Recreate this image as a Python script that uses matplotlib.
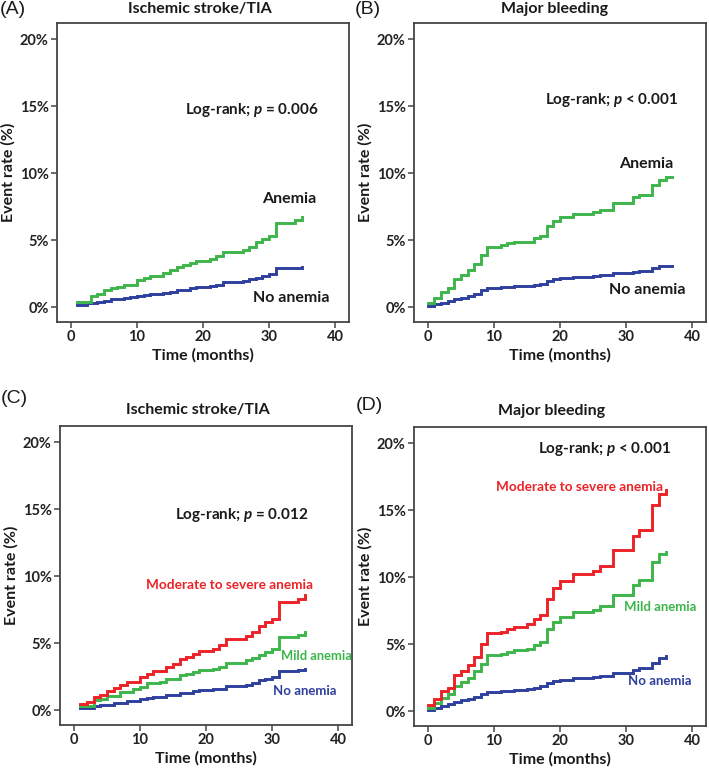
import matplotlib
matplotlib.use("Agg")
import matplotlib.pyplot as plt
import numpy as np

plt.rcParams['font.family'] = ['Lato', 'DejaVu Sans']
plt.rcParams['mathtext.fontset'] = 'custom'
plt.rcParams['mathtext.it'] = 'Lato:italic:bold'
plt.rcParams['mathtext.rm'] = 'Lato:bold'

# ---------------- data (months, event rate %) ----------------
# Panel A: Ischemic stroke/TIA, anemia vs no anemia
a_anemia_t = [1, 3, 4, 5, 6, 7, 8, 10, 11, 12, 14, 15, 16, 17, 18, 19, 21, 22, 23, 26, 27, 28, 29, 30, 31, 34, 35]
a_anemia_v = [0.4, 0.85, 1.0, 1.25, 1.4, 1.5, 1.65, 2.0, 2.2, 2.35, 2.55, 2.75, 3.0, 3.15, 3.3, 3.45, 3.6, 3.8, 4.15, 4.3, 4.5, 4.9, 5.1, 5.3, 6.3, 6.5, 6.7]
a_none_t = [1, 2.5, 4, 5, 6, 8, 9, 10, 11, 12, 14, 15, 16, 18, 19, 21, 22, 23, 25, 26, 27, 28, 29, 30, 31, 33, 35]
a_none_v = [0.2, 0.3, 0.42, 0.5, 0.6, 0.67, 0.75, 0.85, 0.92, 1.0, 1.1, 1.17, 1.3, 1.4, 1.5, 1.6, 1.67, 1.85, 1.9, 1.97, 2.1, 2.2, 2.35, 2.45, 2.9, 2.95, 3.0]

# Panel B: Major bleeding, anemia vs no anemia
b_anemia_t = [0, 1, 2, 3, 4, 5, 6, 7, 8, 9, 11, 12, 13, 15, 16, 17, 18, 19, 20, 22, 25, 26, 28, 31, 32, 34, 35, 36, 37]
b_anemia_v = [0.35, 0.67, 1.15, 1.4, 2.1, 2.4, 2.75, 3.2, 3.9, 4.5, 4.65, 4.77, 4.85, 4.9, 5.15, 5.35, 6.05, 6.45, 6.7, 6.95, 7.1, 7.25, 7.8, 8.2, 8.35, 9.1, 9.5, 9.7, 9.7]
b_none_t = [0, 1, 2, 3, 4, 5, 6, 7, 8, 9, 11, 13, 15, 16, 17, 18, 19, 20, 22, 25, 26, 28, 31, 32, 34, 35, 36, 37]
b_none_v = [0.1, 0.22, 0.35, 0.45, 0.62, 0.72, 0.87, 1.0, 1.25, 1.42, 1.5, 1.55, 1.6, 1.67, 1.75, 1.97, 2.1, 2.2, 2.27, 2.3, 2.4, 2.55, 2.6, 2.7, 2.9, 3.05, 3.1, 3.1]

# Panel C: Ischemic stroke/TIA by anemia severity
c_mod_t = [1, 2, 3, 4, 5, 6, 7, 8, 10, 11, 12, 14, 15, 16, 17, 18, 19, 21, 22, 23, 26, 27, 28, 29, 30, 31, 34, 35]
c_mod_v = [0.5, 0.62, 1.0, 1.17, 1.42, 1.67, 1.86, 2.1, 2.46, 2.73, 2.9, 3.23, 3.48, 3.8, 3.97, 4.22, 4.4, 4.6, 4.85, 5.3, 5.54, 5.84, 6.28, 6.6, 6.83, 8.07, 8.32, 8.6]
c_mild_t = [1, 3, 4, 5, 7, 9, 10, 11, 13, 14, 16, 17, 18, 19, 21, 22, 23, 26, 27, 28, 29, 30, 31, 34, 35]
c_mild_v = [0.32, 0.75, 0.87, 1.07, 1.37, 1.57, 1.74, 2.0, 2.1, 2.36, 2.6, 2.73, 2.86, 3.0, 3.1, 3.23, 3.55, 3.73, 3.9, 4.15, 4.35, 4.55, 5.47, 5.64, 5.84]
c_none_t = [1, 3, 4, 6, 8, 10, 11, 12, 14, 16, 18, 19, 21, 23, 26, 27, 28, 29, 30, 31, 34, 35]
c_none_v = [0.17, 0.32, 0.42, 0.57, 0.67, 0.82, 0.92, 1.0, 1.12, 1.27, 1.42, 1.5, 1.6, 1.8, 1.9, 2.04, 2.24, 2.36, 2.46, 2.9, 2.98, 3.05]

# Panel D: Major bleeding by anemia severity
d_mod_t = [0, 1, 2, 3, 4, 5, 6, 7, 8, 9, 11, 12, 13, 15, 16, 17, 18, 19, 20, 22, 25, 26, 28, 31, 32, 34, 35, 36]
d_mod_v = [0.45, 0.94, 1.5, 1.76, 2.68, 3.0, 3.43, 4.05, 5.0, 5.8, 5.9, 6.1, 6.3, 6.5, 6.9, 7.15, 8.4, 9.2, 9.7, 10.2, 10.45, 10.8, 12.0, 13.1, 13.55, 15.4, 16.2, 16.5]
d_mild_t = [0, 1, 2, 3, 4, 5, 6, 7, 8, 9, 11, 12, 13, 15, 16, 17, 18, 19, 20, 22, 25, 26, 28, 31, 32, 34, 35, 36]
d_mild_v = [0.27, 0.62, 1.02, 1.3, 1.86, 2.2, 2.5, 3.0, 3.55, 4.17, 4.3, 4.42, 4.55, 4.67, 4.92, 5.17, 6.1, 6.66, 7.03, 7.38, 7.58, 7.83, 8.65, 9.4, 9.76, 11.13, 11.7, 11.87]
d_none_t = [0, 1, 2, 3, 4, 5, 6, 7, 8, 9, 11, 13, 15, 16, 17, 18, 19, 20, 22, 25, 26, 28, 31, 32, 34, 35, 36]
d_none_v = [0.12, 0.27, 0.37, 0.52, 0.7, 0.82, 0.94, 1.07, 1.27, 1.44, 1.52, 1.61, 1.69, 1.76, 1.86, 2.11, 2.26, 2.36, 2.46, 2.56, 2.66, 2.86, 3.1, 3.25, 3.6, 4.0, 4.1]

x_ticks = [0, 10, 20, 30, 40]
y_ticks = [0, 5, 10, 15, 20]
y_ticklabels = ['0%', '5%', '10%', '15%', '20%']
titles = ['Ischemic stroke/TIA', 'Major bleeding', 'Ischemic stroke/TIA', 'Major bleeding']
panel_labels = ['(A)', '(B)', '(C)', '(D)']
pvals = [r'Log-rank; $p$ = 0.006', r'Log-rank; $p$ < 0.001',
         r'Log-rank; $p$ = 0.012', r'Log-rank; $p$ < 0.001']

GREEN = '#3DB54A'
BLUE = '#2E3F9E'
RED = '#EC2227'
SPINE = '#444444'
TXT = '#1a1a1a'

W, H = 709, 769
fig = plt.figure(figsize=(W / 100, H / 100), dpi=100)

def fx(px):
    return px / W

def fy(py):
    return 1 - py / H

# axes boxes in pixels: left, top, right, bottom
boxes = [(57, 23, 349, 322), (414, 23, 706, 322), (60, 426, 352, 725), (414, 427, 706, 726)]
axes = []
for (l, t, r, b) in boxes:
    ax = fig.add_axes([fx(l), fy(b), (r - l) / W, (b - t) / H])
    axes.append(ax)

def style(ax):
    ax.set_xlim(-2.1, 42.1)
    ax.set_ylim(-1.1, 21.2)
    ax.set_xticks(x_ticks)
    ax.set_yticks(y_ticks)
    ax.set_yticklabels(y_ticklabels)
    for s in ax.spines.values():
        s.set_color(SPINE)
        s.set_linewidth(1.3)
    ax.tick_params(direction='out', length=4.5, width=1.1, color=SPINE,
                   labelsize=10.5, pad=1.5)
    for lab in ax.get_xticklabels() + ax.get_yticklabels():
        lab.set_fontweight('bold')
        lab.set_color('#222222')
    ax.set_xlabel('Time (months)', fontsize=11.5, fontweight='bold', labelpad=3, color=TXT)
    ax.set_ylabel('Event rate (%)', fontsize=11.5, fontweight='bold', labelpad=3, color=TXT)

def curve(ax, t, v, color):
    ax.step(t, v, where='post', color=color, lw=2.1, solid_joinstyle='miter')

# Panel A
ax = axes[0]
curve(ax, a_none_t, a_none_v, BLUE)
curve(ax, a_anemia_t, a_anemia_v, GREEN)
# Panel B
ax = axes[1]
curve(ax, b_none_t, b_none_v, BLUE)
curve(ax, b_anemia_t, b_anemia_v, GREEN)
# Panel C
ax = axes[2]
curve(ax, c_none_t, c_none_v, BLUE)
curve(ax, c_mild_t, c_mild_v, GREEN)
curve(ax, c_mod_t, c_mod_v, RED)
# Panel D
ax = axes[3]
curve(ax, d_none_t, d_none_v, BLUE)
curve(ax, d_mild_t, d_mild_v, GREEN)
curve(ax, d_mod_t, d_mod_v, RED)

for ax in axes:
    style(ax)

kw = dict(ha='center', va='center', fontweight='bold')
# annotations
axes[0].text(27.4, 14.7, pvals[0], fontsize=11, color=TXT, **kw)
axes[0].text(33.0, 8.1, 'Anemia', fontsize=11.5, color=TXT, **kw)
axes[0].text(33.4, 0.7, 'No anemia', fontsize=11.5, color=TXT, **kw)

axes[1].text(27.8, 15.45, pvals[1], fontsize=11, color=TXT, **kw)
axes[1].text(33.1, 10.7, 'Anemia', fontsize=11.5, color=TXT, **kw)
axes[1].text(33.2, 1.27, 'No anemia', fontsize=11.5, color=TXT, **kw)

axes[2].text(25.4, 14.55, pvals[2], fontsize=11, color=TXT, **kw)
axes[2].text(23.5, 9.33, 'Moderate to severe anemia', fontsize=9.8, color=RED, **kw)
axes[2].text(36.7, 4.05, 'Mild anemia', fontsize=9.3, color=GREEN, **kw)
axes[2].text(35.0, 1.42, 'No anemia', fontsize=9.5, color=BLUE, **kw)

axes[3].text(26.7, 19.56, pvals[3], fontsize=11, color=TXT, **kw)
axes[3].text(23.0, 16.75, 'Moderate to severe anemia', fontsize=9.8, color=RED, **kw)
axes[3].text(35.1, 7.8, 'Mild anemia', fontsize=9.5, color=GREEN, **kw)
axes[3].text(35.1, 2.23, 'No anemia', fontsize=9.5, color=BLUE, **kw)

# titles and panel labels
title_pos = [(200, 9.5), (555, 9.5), (198, 410), (552, 411)]
label_pos = [(0, 10), (355, 10), (1, 399), (356, 406)]
for i in range(4):
    fig.text(fx(title_pos[i][0]), fy(title_pos[i][1]), titles[i], ha='center', va='center',
             fontsize=11.5, fontweight='bold', color=TXT)
    fig.text(fx(label_pos[i][0]), fy(label_pos[i][1]), panel_labels[i], ha='left', va='center',
             fontsize=14, family=['Liberation Sans', 'DejaVu Sans'], color=TXT)

fig.savefig('out.png', dpi=100)
